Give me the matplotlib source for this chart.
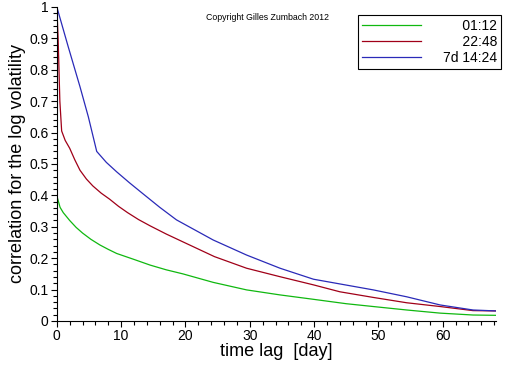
import matplotlib
matplotlib.use("Agg")
import matplotlib.pyplot as plt
from matplotlib.ticker import MultipleLocator

plt.rcParams["font.family"] = ["Liberation Sans", "DejaVu Sans"]

# time lag [day] and correlation values
green_x = [0, 0.05, 0.5, 1, 2, 3, 4, 5.3, 6.7, 8, 9.3, 12, 14.5, 17, 19.6,
           24.3, 29.5, 34.7, 39.9, 45, 49.2, 54.4, 59.6, 64.7, 68.3]
green_y = [0.49, 0.395, 0.362, 0.345, 0.32, 0.298, 0.28, 0.26, 0.242, 0.228,
           0.215, 0.196, 0.178, 0.163, 0.15, 0.123, 0.099, 0.083, 0.069,
           0.055, 0.046, 0.035, 0.025, 0.019, 0.018]

red_x = [0, 0.2, 0.47, 0.75, 1.3, 2, 2.8, 3.6, 4.6, 5.6, 6.9, 8.2, 9.6, 11,
         12.7, 14.5, 17, 19.6, 24.5, 29.5, 34.7, 39.9, 44, 49.2, 54.4, 59.6,
         64.7, 68.3]
red_y = [1.0, 0.9, 0.70, 0.605, 0.575, 0.55, 0.513, 0.48, 0.452, 0.43, 0.407,
         0.388, 0.365, 0.345, 0.323, 0.303, 0.277, 0.252, 0.205, 0.168,
         0.141, 0.115, 0.093, 0.075, 0.058, 0.046, 0.033, 0.032]

blue_x = [0, 1.76, 3.6, 4.9, 6.2, 7.7, 9.3, 11.3, 13.4, 16, 18.6, 24.3, 29.5,
          34.7, 39.9, 44, 49.2, 54.4, 59.6, 64.7, 68.3]
blue_y = [1.0, 0.874, 0.746, 0.65, 0.54, 0.505, 0.475, 0.44, 0.405, 0.362,
          0.322, 0.258, 0.21, 0.168, 0.133, 0.118, 0.099, 0.077, 0.051,
          0.035, 0.032]

labels = ["     01:12", "     22:48", "7d 14:24"]
colors = ["#10b810", "#a00018", "#2a2ab8"]


def main():
    fig = plt.figure(figsize=(5.12, 3.66), dpi=100)
    ax = fig.add_axes([0.111, 0.123, 0.858, 0.858])

    series = [(green_x, green_y), (red_x, red_y), (blue_x, blue_y)]
    for (xs, ys), lab, col in zip(series, labels, colors):
        ax.plot(xs, ys, color=col, lw=0.9, label=lab)

    ax.set_xlim(0, 68.3)
    ax.set_ylim(0, 1)
    ax.xaxis.set_major_locator(MultipleLocator(10))
    ax.xaxis.set_minor_locator(MultipleLocator(2))
    ax.yaxis.set_minor_locator(MultipleLocator(0.02))
    ax.set_yticks([0, 0.1, 0.2, 0.3, 0.4, 0.5, 0.6, 0.7, 0.8, 0.9, 1])
    ax.set_yticklabels(["0", "0.1", "0.2", "0.3", "0.4", "0.5", "0.6",
                        "0.7", "0.8", "0.9", "1"])

    for s in ["top", "right"]:
        ax.spines[s].set_visible(False)
    ax.tick_params(which="major", length=4, width=0.8, labelsize=10, pad=2)
    ax.tick_params(which="minor", length=3, width=0.8)

    ax.set_xlabel("time lag  [day]", fontsize=13, labelpad=0)
    ax.set_ylabel("correlation for the log volatility", fontsize=13, labelpad=2)

    leg = ax.legend(loc="upper right", bbox_to_anchor=(1.012, 0.975),
                    fontsize=10, handlelength=4.2, labelspacing=0.15,
                    borderpad=0.3, handletextpad=1.6, fancybox=False,
                    framealpha=1, edgecolor="black", borderaxespad=0)
    leg.get_frame().set_linewidth(0.8)

    fig.text(0.522, 0.953, "Copyright Gilles Zumbach 2012", fontsize=6.3,
             ha="center", va="center")

    fig.savefig("out.png", dpi=100)
    plt.close(fig)


if __name__ == "__main__":
    main()
